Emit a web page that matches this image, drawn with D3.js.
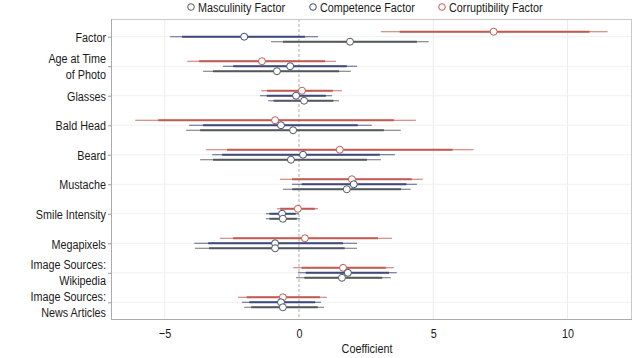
<!DOCTYPE html>
<html><head><meta charset="utf-8">
<script src="https://cdn.jsdelivr.net/npm/d3@7"></script>
<style>
html,body{margin:0;padding:0;background:#fff;}
svg text{font-family:"Liberation Sans",Arial,"Noto Sans",sans-serif;fill:#1a1a1a;}
</style></head>
<body>
<svg id="chart" width="640" height="358"></svg>
<script>
const categories = ["Factor","Age at Time of Photo","Glasses","Bald Head","Beard","Mustache","Smile Intensity","Megapixels","Image Sources: Wikipedia","Image Sources: News Articles"];
const categoryLabels = [["Factor"],["Age at Time","of Photo"],["Glasses"],["Bald Head"],["Beard"],["Mustache"],["Smile Intensity"],["Megapixels"],["Image Sources:","Wikipedia"],["Image Sources:","News Articles"]];
const seriesNames = ["Masculinity Factor","Competence Factor","Corruptibility Factor"];
const xTicks = [-5, 0, 5, 10];

// Corruptibility (red)
const corEst  = [7.25, -1.38, 0.11, -0.89, 1.52, 1.97, -0.04, 0.22, 1.64, -0.60];
const corLo95 = [3.05, -4.16, -1.41, -6.10, -3.46, -0.71, -0.82, -2.94, -0.22, -2.27];
const corHi95 = [11.49, 1.38, 1.60, 4.35, 6.50, 4.61, 0.71, 3.46, 3.53, 1.04];
const corLo90 = [3.75, -3.72, -1.19, -5.24, -2.68, -0.26, -0.70, -2.45, 0.10, -1.95];
const corHi90 = [10.82, 0.97, 1.26, 3.53, 5.72, 4.20, 0.60, 2.94, 3.23, 0.78];
// Competence (blue)
const comEst  = [-2.04, -0.33, -0.11, -0.67, 0.15, 2.04, -0.63, -0.89, 1.82, -0.67];
const comLo95 = [-4.80, -2.83, -1.45, -4.09, -3.23, -0.26, -1.23, -3.90, -0.04, -2.12];
const comHi95 = [0.71, 2.16, 1.23, 2.71, 3.57, 4.39, 0.00, 2.16, 3.64, 0.82];
const comLo90 = [-4.35, -2.45, -1.20, -3.57, -2.86, 0.10, -1.10, -3.38, 0.25, -1.85];
const comHi90 = [0.22, 1.78, 1.00, 2.19, 3.01, 4.00, -0.12, 1.64, 3.35, 0.60];
// Masculinity (gray)
const masEst  = [1.90, -0.82, 0.19, -0.22, -0.30, 1.78, -0.60, -0.89, 1.60, -0.60];
const masLo95 = [-1.04, -3.57, -1.15, -4.20, -3.68, -0.60, -1.23, -3.87, -0.11, -2.04];
const masHi95 = [4.83, 1.93, 1.49, 3.79, 3.05, 4.16, 0.04, 2.16, 3.42, 0.93];
const masLo90 = [-0.60, -3.20, -0.95, -3.68, -3.20, -0.25, -1.10, -3.35, 0.20, -1.78];
const masHi90 = [4.39, 1.49, 1.28, 3.16, 2.53, 3.80, -0.08, 1.70, 3.10, 0.70];

const colors = {mas:"#51595c", com:"#3d4a7a", cor:"#c25a52"};
const series = [
  {key:"cor", name:seriesNames[2], est:corEst, lo95:corLo95, hi95:corHi95, lo90:corLo90, hi90:corHi90, off:-5},
  {key:"com", name:seriesNames[1], est:comEst, lo95:comLo95, hi95:comHi95, lo90:comLo90, hi90:comHi90, off:0},
  {key:"mas", name:seriesNames[0], est:masEst, lo95:masLo95, hi95:masHi95, lo90:masLo90, hi90:masHi90, off:5}
];

const SX = 0.8, FS = 13.5;
const labelShift = [0, 0, 0, 0, 0, 0, 0, 0, -1.5, 1.5];
const svg = d3.select("#chart");
const m = {left:111, right:8, top:19, bottom:38};
const W = 640, H = 358;
const x = d3.scaleLinear().domain([-7, 12.4]).range([m.left, W - m.right]);
const y = d3.scalePoint().domain(categories).range([m.top, H - m.bottom]).padding(0.6);

// grid
const g = svg.append("g");
g.selectAll(".vg").data(xTicks.filter(d=>d!==0)).enter().append("line")
  .attr("x1", d=>x(d)).attr("x2", d=>x(d)).attr("y1", m.top).attr("y2", H-m.bottom)
  .attr("stroke", "#ececec").attr("stroke-width", 1);
g.selectAll(".hg").data(categories).enter().append("line")
  .attr("x1", m.left).attr("x2", W-m.right).attr("y1", d=>y(d)).attr("y2", d=>y(d))
  .attr("stroke", "#f0f0f0").attr("stroke-width", 1);
g.append("line").attr("x1", x(0)).attr("x2", x(0)).attr("y1", m.top).attr("y2", H-m.bottom)
  .attr("stroke", "#999").attr("stroke-width", 0.8).attr("stroke-dasharray", "3,2");

// frame
svg.append("rect").attr("x", m.left+0.5).attr("y", m.top+0.5)
  .attr("width", W-m.right-m.left-1).attr("height", H-m.bottom-m.top-1)
  .attr("fill", "none").attr("stroke", "#c8c8c8").attr("stroke-width", 1);
svg.append("line").attr("x1", m.left+0.5).attr("x2", m.left+0.5).attr("y1", m.top).attr("y2", H-m.bottom).attr("stroke","#aaa");
svg.append("line").attr("x1", m.left).attr("x2", W-m.right).attr("y1", H-m.bottom-0.5).attr("y2", H-m.bottom-0.5).attr("stroke","#aaa");

// x axis
const xAxis = svg.append("g").attr("transform", `translate(0,${H-m.bottom})`)
  .call(d3.axisBottom(x).tickValues(xTicks).tickSize(0).tickPadding(8).tickFormat(d => d < 0 ? "\u2212" + Math.abs(d) : d));
xAxis.select(".domain").remove();
xAxis.selectAll("text").attr("font-size", FS).attr("transform", `scale(${SX},1)`).style("fill", "#1a1a1a");
svg.append("text").attr("transform", `translate(367,353) scale(${SX},1)`).attr("text-anchor", "middle").attr("font-size", FS).text("Coefficient");

// y axis
const yAxis = svg.append("g").attr("transform", `translate(${m.left},0)`)
  .call(d3.axisLeft(y).tickSize(3).tickFormat(""));
yAxis.select(".domain").remove();
yAxis.selectAll("line").attr("stroke", "#999");
yAxis.selectAll(".tick").each(function(d, i) {
  const lines = categoryLabels[i];
  const t = d3.select(this).append("text").attr("transform", `translate(-5,${labelShift[i]}) scale(${SX},1)`).attr("text-anchor", "end")
    .attr("font-size", FS).style("fill", "#1a1a1a");
  lines.forEach((ln, j) => {
    t.append("tspan").attr("x", 0).attr("y", (j - (lines.length - 1) / 2) * 16).attr("dy", "0.35em").text(ln);
  });
});

// intervals
series.forEach(s => {
  const sg = svg.append("g");
  const idx = d3.range(categories.length);
  sg.selectAll(".thin").data(idx).enter().append("line")
    .attr("x1", i=>x(s.lo95[i])).attr("x2", i=>x(s.hi95[i]))
    .attr("y1", i=>y(categories[i])+s.off).attr("y2", i=>y(categories[i])+s.off)
    .attr("stroke", colors[s.key]).attr("stroke-width", 1.1).attr("opacity", 0.85);
  sg.selectAll(".thick").data(idx).enter().append("line")
    .attr("x1", i=>x(s.lo90[i])).attr("x2", i=>x(s.hi90[i]))
    .attr("y1", i=>y(categories[i])+s.off).attr("y2", i=>y(categories[i])+s.off)
    .attr("stroke", colors[s.key]).attr("stroke-width", 2);
  sg.selectAll("circle").data(idx).enter().append("circle")
    .attr("cx", i=>x(s.est[i])).attr("cy", i=>y(categories[i])+s.off).attr("r", 3.5)
    .attr("fill", "#fff").attr("stroke", colors[s.key]).attr("stroke-width", 1);
});

// legend
const legendItems = [
  {name:seriesNames[0], key:"mas", x:191},
  {name:seriesNames[1], key:"com", x:313},
  {name:seriesNames[2], key:"cor", x:442}
];
const lg = svg.append("g");
legendItems.forEach(it => {
  lg.append("circle").attr("cx", it.x).attr("cy", 7).attr("r", 3.3)
    .attr("fill", "#fff").attr("stroke", colors[it.key]).attr("stroke-width", 1);
  lg.append("text").attr("transform", `translate(${it.x + 7},7) scale(${SX},1)`).attr("dy", "0.35em")
    .attr("font-size", FS).text(it.name);
});
</script>
</body></html>
